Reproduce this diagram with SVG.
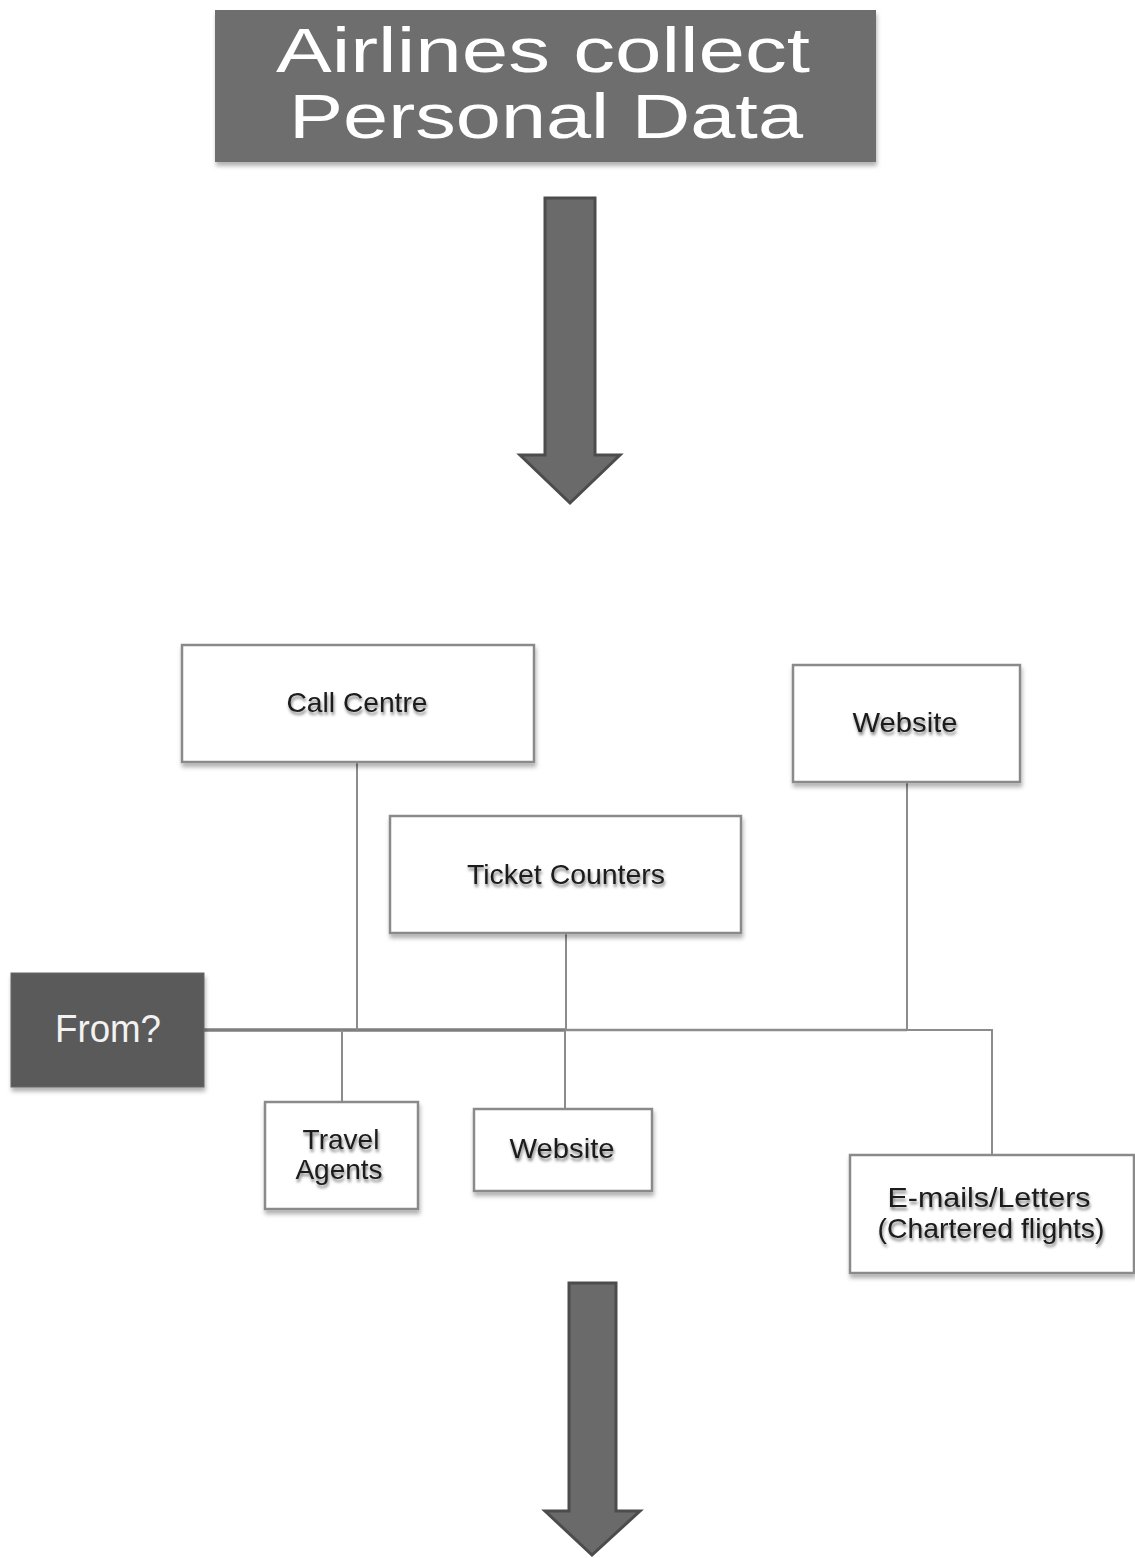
<svg xmlns="http://www.w3.org/2000/svg" width="1135" height="1558" viewBox="0 0 1135 1558">
  <defs>
    <filter id="boxShadow" x="-10%" y="-20%" width="125%" height="150%">
      <feDropShadow dx="1" dy="4" stdDeviation="2.2" flood-color="#000" flood-opacity="0.3"/>
    </filter>
    <filter id="textShadow" x="-10%" y="-30%" width="125%" height="180%">
      <feDropShadow dx="1" dy="3" stdDeviation="1.6" flood-color="#000" flood-opacity="0.5"/>
    </filter>
    <style>
      .box { fill: #ffffff; stroke: #8a8a8a; stroke-width: 2.5; filter: url(#boxShadow); }
      .dark { fill: #5a5a5a; stroke: #666; stroke-width: 1; filter: url(#boxShadow); }
      .label { font-family: "Liberation Sans", Arial, sans-serif; font-size: 28px; fill: #1a1a1a; text-anchor: middle; filter: url(#textShadow); }
      .title { font-family: "Liberation Sans", Arial, sans-serif; font-size: 63px; fill: #ffffff; text-anchor: middle; }
      .arrow { fill: #6a6a6a; stroke: #4c4c4c; stroke-width: 3; stroke-linejoin: miter; }
      .wire { fill: none; stroke: #8c8c8c; stroke-width: 2; }
      .trunk { fill: none; stroke: #7e7e7e; stroke-width: 3.5; }
    </style>
  </defs>

  <rect width="1135" height="1558" fill="#ffffff"/>

  <!-- heading block -->
  <g id="title">
    <rect x="215" y="10" width="661" height="152" fill="#6e6e6e" filter="url(#boxShadow)"/>
    <text class="title" x="543" y="72" textLength="534" lengthAdjust="spacingAndGlyphs">Airlines collect</text>
    <text class="title" x="546" y="138" textLength="514" lengthAdjust="spacingAndGlyphs">Personal Data</text>
  </g>

  <!-- block arrows -->
  <g id="arrow-top">
    <polygon class="arrow" points="545,198 595,198 595,455 620,455 570,503 520,455 545,455"/>
  </g>
  <g id="arrow-bottom">
    <polygon class="arrow" points="569,1283 616,1283 616,1511 640,1511 592,1555 545,1511 569,1511"/>
  </g>

  <!-- connectors -->
  <g id="connectors">
    <line class="trunk" x1="204" y1="1030" x2="566" y2="1030"/>
    <line class="wire" x1="566" y1="1030" x2="907" y2="1030" style="stroke-width:2.6"/>
    <polyline class="wire" points="907,1030 992,1030 992,1155"/>
    <line class="wire" x1="357" y1="762" x2="357" y2="1030"/>
    <line class="wire" x1="566" y1="933" x2="566" y2="1030"/>
    <line class="wire" x1="907" y1="782" x2="907" y2="1030"/>
    <line class="wire" x1="342" y1="1030" x2="342" y2="1102"/>
    <line class="wire" x1="565" y1="1030" x2="565" y2="1109"/>
  </g>

  <!-- source nodes -->
  <g id="call-centre">
    <rect class="box" x="182" y="645" width="352" height="117"/>
    <text class="label" x="357" y="712" textLength="141" lengthAdjust="spacingAndGlyphs">Call Centre</text>
  </g>
  <g id="website-top">
    <rect class="box" x="793" y="665" width="227" height="117"/>
    <text class="label" x="905" y="732" textLength="105" lengthAdjust="spacingAndGlyphs">Website</text>
  </g>
  <g id="ticket-counters">
    <rect class="box" x="390" y="816" width="351" height="117"/>
    <text class="label" x="566" y="884" textLength="198" lengthAdjust="spacingAndGlyphs">Ticket Counters</text>
  </g>
  <g id="from">
    <rect class="dark" x="11" y="973" width="193" height="114"/>
    <text x="108" y="1042" font-family="'Liberation Sans', Arial, sans-serif" font-size="38" fill="#f2f2f2" text-anchor="middle" textLength="106" lengthAdjust="spacingAndGlyphs">From?</text>
  </g>
  <g id="travel-agents">
    <rect class="box" x="265" y="1102" width="153" height="107"/>
    <text class="label" x="341" y="1149">Travel</text>
    <text class="label" x="339" y="1179">Agents</text>
  </g>
  <g id="website-bottom">
    <rect class="box" x="474" y="1109" width="178" height="82"/>
    <text class="label" x="562" y="1158" textLength="105" lengthAdjust="spacingAndGlyphs">Website</text>
  </g>
  <g id="emails-letters">
    <rect class="box" x="850" y="1155" width="284" height="118"/>
    <text class="label" x="989" y="1207" textLength="203" lengthAdjust="spacingAndGlyphs">E-mails/Letters</text>
    <text class="label" x="991" y="1238" textLength="227" lengthAdjust="spacingAndGlyphs">(Chartered flights)</text>
  </g>
</svg>
